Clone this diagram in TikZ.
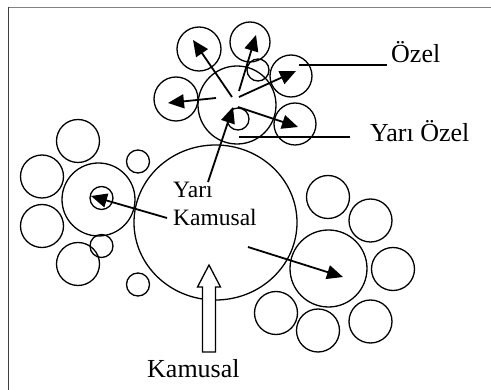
\documentclass[tikz,border=0pt]{standalone}
\usepackage{fontspec}
\setmainfont{Liberation Serif}
\usetikzlibrary{arrows.meta,shapes.geometric}
\tikzset{
  circ/.style={draw, circle, line width=1.3pt, inner sep=0pt, minimum size=#1},
  arr/.style={line width=1.8pt, -{Triangle[length=16pt,width=14pt]}},
  lead/.style={line width=1.6pt},
  lbl/.style={inner sep=0pt, anchor=base west, font=\fontsize{26}{28}\selectfont},
  inlbl/.style={inner sep=0pt, anchor=base west, font=\fontsize{23.5}{26}\selectfont},
}
\begin{document}
\begin{tikzpicture}[x=1pt,y=-1pt]
\useasboundingbox (0,0) rectangle (491,390);
% frame
\draw[line width=1.5pt, gray] (8,7.5) -- (491,7.5);
\draw[line width=1.5pt, black!75] (8.5,7) -- (8.5,390);

% big circle
\node[draw, ellipse, line width=1.3pt, inner sep=0pt, minimum width=163pt, minimum height=155pt] (B) at (215.5,222.5) {};

% top cluster
\node[circ=78pt] (T0) at (237,105) {};
\node[circ=44pt] (T1) at (199,49) {};
\node[circ=40pt] (T2) at (250,42) {};
\node[circ=22pt] (T3) at (258,70) {};
\node[circ=42pt] (T4) at (291,76) {};
\node[circ=44pt] (T5) at (176,99) {};
\node[circ=42pt] (T6) at (295,124) {};
\node[circ=22pt] (T7) at (238,119) {};

% left cluster
\node[circ=73pt] (L0) at (98.5,199.5) {};
\node[circ=23pt] (L1) at (101.5,198) {};
\node[circ=43pt] (La) at (78,141) {};
\node[circ=43pt] (Lb) at (42,176.5) {};
\node[circ=43pt] (Lc) at (42,226) {};
\node[circ=43pt] (Ld) at (78,264) {};
\node[circ=23pt] (Ls1) at (101.5,246) {};
\node[circ=23pt] (Ls2) at (138,161.5) {};
\node[circ=23pt] (Ls3) at (138,284.5) {};

% right cluster
\node[circ=77pt] (R0) at (328.5,268.5) {};
\node[circ=43pt] (Ra) at (328,197) {};
\node[circ=43pt] (Rb) at (370.5,220.5) {};
\node[circ=43pt] (Rc) at (393,269) {};
\node[circ=43pt] (Rd) at (370.5,321.5) {};
\node[circ=43pt] (Re) at (318,330.5) {};
\node[circ=43pt] (Rf) at (276,313) {};

% arrow end points
\coordinate (s1) at (232,97);  \coordinate (e1) at (193,40);
\coordinate (s2) at (239,91);  \coordinate (e2) at (256,35);
\coordinate (s3) at (239,97);  \coordinate (e3) at (296,71);
\coordinate (s4) at (216,98);  \coordinate (e4) at (168,103);
\coordinate (s5) at (238,107); \coordinate (e5) at (298,127);
\coordinate (s6) at (208,182); \coordinate (e6) at (233,107);
\coordinate (s7) at (167,218); \coordinate (e7) at (91,196);
\coordinate (s8) at (248,247); \coordinate (e8) at (343,277);
\draw[arr] (s1) -- (e1);
\draw[arr] (s2) -- (e2);
\draw[arr] (s3) -- (e3);
\draw[arr] (s4) -- (e4);
\draw[arr] (s5) -- (e5);
\draw[arr] (s6) -- (e6);
\draw[arr] (s7) -- (e7);
\draw[arr] (s8) -- (e8);

% labels
\node[lbl] (oz) at (391,63) {Özel};
\node[lbl] (yoz) at (370,142) {Yarı Özel};
\node[inlbl] (y1) at (173,198) {Yarı};
\node[inlbl] (y2) at (173,226) {Kamusal};
\node[lbl] (kam) at (147,378) {Kamusal};
\coordinate (oza) at (299,65);
\coordinate (ozb) at (387,65);
\coordinate (yoza) at (239,137);
\coordinate (yozb) at (350,137);
\draw[lead] (oza) -- (ozb);
\draw[lead] (yoza) -- (yozb);

% hollow arrow
\draw[line width=1.3pt, fill=white] (209,265) -- (220.5,287) -- (215.5,287) -- (215.5,352) -- (202.5,352) -- (202.5,287) -- (197.5,287) -- cycle;
\end{tikzpicture}
\end{document}
